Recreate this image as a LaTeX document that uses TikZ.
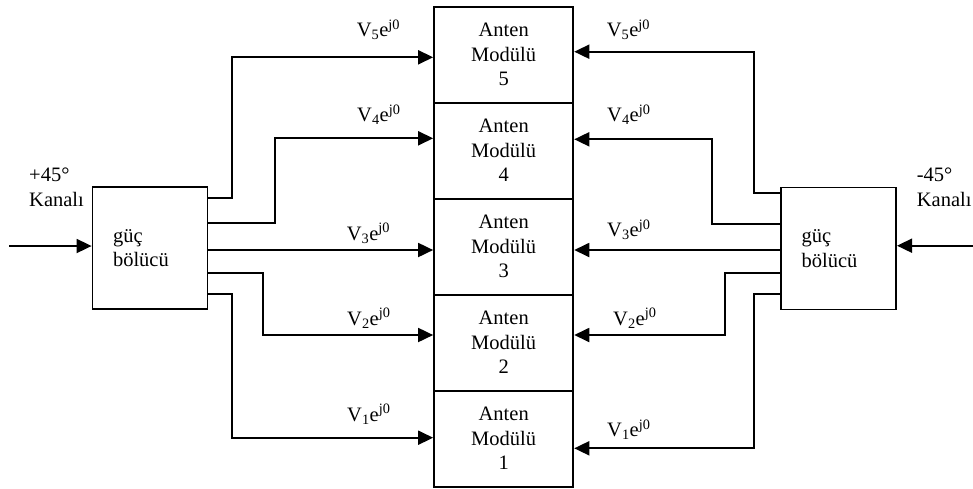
\documentclass[tikz,border=0pt]{standalone}
\usepackage{fontspec}
\setmainfont{Liberation Serif}
\usetikzlibrary{arrows.meta}
% phasor label V_n e^{j0}
\newcommand\phasorlbl[1]{V\textsubscript{#1}e\textsuperscript{j0}}
\begin{document}
\begin{tikzpicture}[x=1pt,y=-1pt,
  every node/.style={font=\fontsize{20.5}{24.5}\selectfont, inner sep=0pt},
  wire/.style={line width=1.8pt},
  feed/.style={wire,-{Triangle[length=15pt,width=14pt]}},
  splitter/.style={draw,line width=1.8pt,minimum width=115pt,minimum height=122pt,
    text width=74pt,inner xsep=20.5pt,align=left},
  module/.style={draw,line width=1.8pt,minimum width=139.3pt,minimum height=96pt,align=center},
  lbl/.style={anchor=base west},
  chan/.style={align=left,anchor=north west}]
\useasboundingbox (0,0) rectangle (973,488);

% power dividers
\node[splitter] (gl) at (150,248.2) {güç\\bölücü};
\node[splitter] (gr) at (838.6,248.4) {güç\\bölücü};

% stacked antenna modules
\foreach \i/\y in {5/54.7,4/150.7,3/246.7,2/342.7,1/438.7}
  \node[module] (m\i) at (503.7,\y) {Anten\\Modülü\\\i};

% channel inputs
\node[chan] (cl) at (29,167.8) {+45°\\Kanalı};
\node[chan] (cr) at (916.7,167.8) {-45°\\Kanalı};
\coordinate (inL) at (9,246);
\coordinate (inR) at (973,245.7);
\draw[feed] (inL) -- (inL -| gl.west);
\draw[feed] (inR) -- (inR -| gr.east);

% +45 feed lines
\draw[feed] (gl.east |- 0,198.3) -| (231.7,57.3) -- (m5.west |- 0,57.3);
\draw[feed] (gl.east |- 0,223.3) -| (275.3,138.3) -- (m4.west |- 0,138.3);
\draw[feed] (gl.east |- 0,250) -- (m3.west |- 0,250);
\draw[feed] (gl.east |- 0,273.3) -| (263.3,335) -- (m2.west |- 0,335);
\draw[feed] (gl.east |- 0,294.3) -| (231.7,437.7) -- (m1.west |- 0,437.7);

% -45 feed lines
\draw[feed] (gr.west |- 0,193.3) -| (754.3,51.7) -- (m5.east |- 0,51.7);
\draw[feed] (gr.west |- 0,224) -| (711.7,139.3) -- (m4.east |- 0,139.3);
\draw[feed] (gr.west |- 0,250) -- (m3.east |- 0,250);
\draw[feed] (gr.west |- 0,273.3) -| (725,335) -- (m2.east |- 0,335);
\draw[feed] (gr.west |- 0,294.3) -| (754.3,448.3) -- (m1.east |- 0,448.3);

% phasor labels, left side
\node[lbl] (a5) at (356.7,36.7) {\phasorlbl{5}};
\node[lbl] (a4) at (357,121.7) {\phasorlbl{4}};
\node[lbl] (a3) at (346.7,240) {\phasorlbl{3}};
\node[lbl] (a2) at (347,325) {\phasorlbl{2}};
\node[lbl] (a1) at (347,421) {\phasorlbl{1}};

% phasor labels, right side
\node[lbl] (b5) at (606.7,36.7) {\phasorlbl{5}};
\node[lbl] (b4) at (607,121.7) {\phasorlbl{4}};
\node[lbl] (b3) at (607,236.7) {\phasorlbl{3}};
\node[lbl] (b2) at (613,325) {\phasorlbl{2}};
\node[lbl] (b1) at (607,436.7) {\phasorlbl{1}};
\end{tikzpicture}
\end{document}
